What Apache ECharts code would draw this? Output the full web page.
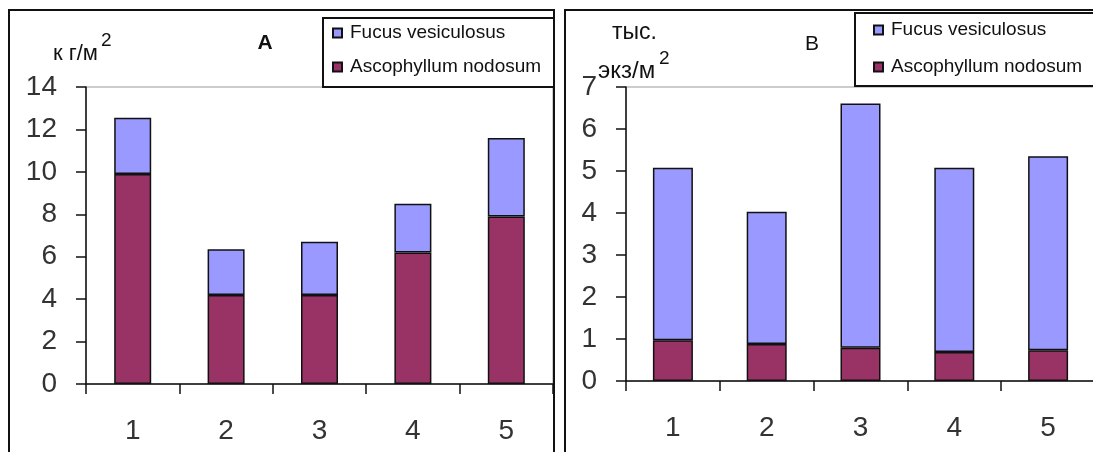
<!DOCTYPE html>
<html>
<head>
<meta charset="utf-8">
<script src="https://cdn.jsdelivr.net/npm/echarts@6/dist/echarts.min.js"></script>
<style>
  html, body { margin: 0; padding: 0; background: #fff; overflow: hidden; }
  #wrap { position: relative; width: 1093px; height: 452px; }
  #panelA { position: absolute; left: 8px; top: 9px; width: 543px; height: 450px;
    border: 2px solid #111; border-bottom: none; }
  #panelB { position: absolute; left: 564px; top: 9px; width: 529px; height: 450px;
    border-left: 2px solid #111; border-top: 2px solid #111; }
</style>
</head>
<body>
<div id="wrap">
  <div id="panelA"></div>
  <div id="panelB"></div>
</div>
<script>
const categories = ["1", "2", "3", "4", "5"];
const seriesNames = ["Fucus vesiculosus", "Ascophyllum nodosum"];

// A: biomass, kg/m2
const biomassAsco = [9.9, 4.2, 4.2, 6.2, 7.9];
const biomassFucus = [2.65, 2.15, 2.5, 2.3, 3.7];

// B: density, thousand ind./m2
const densityAsco = [0.97, 0.88, 0.79, 0.69, 0.73];
const densityFucus = [4.11, 3.15, 5.82, 4.39, 4.62];

const FUCUS = "#9999ff";
const ASCO = "#993366";
const textFont = "'Liberation Sans', Arial, sans-serif";

function buildOption(cfg) {
  return {
    animation: false,
    legend: {
      data: seriesNames,
      orient: "vertical",
      left: cfg.legend.left,
      top: cfg.legend.top,
      padding: cfg.legend.padding,
      itemGap: cfg.legend.gap,
      itemWidth: 9,
      itemHeight: 9,
      icon: "rect",
      borderColor: "#111",
      borderWidth: 2,
      backgroundColor: "#fff",
      textStyle: { fontFamily: textFont, fontSize: 19, color: "#111", lineHeight: 20, padding: [0, 0, 0, 3] },
    },
    grid: {
      left: cfg.grid.left, top: cfg.grid.top, width: cfg.grid.width, height: cfg.grid.height,
      show: true, borderColor: "#999", borderWidth: 1,
    },
    xAxis: {
      type: "category",
      data: categories,
      axisLine: { lineStyle: { color: "#111", width: 1.5 } },
      axisTick: { show: true, length: 10, interval: 0, lineStyle: { color: "#111", width: 1.5 } },
      axisLabel: { margin: 33, fontFamily: textFont, fontSize: 28, color: "#333" },
    },
    yAxis: {
      type: "value",
      min: 0,
      max: cfg.yMax,
      interval: cfg.yStep,
      splitLine: { show: false },
      axisLine: { show: true, lineStyle: { color: "#111", width: 1.5 } },
      axisTick: { show: true, length: 10, lineStyle: { color: "#111", width: 1.5 } },
      axisLabel: { margin: 29, fontFamily: textFont, fontSize: 28, color: "#333" },
    },
    graphic: cfg.texts.map((t) => ({
      type: "text",
      x: t.x,
      y: t.y,
      style: {
        text: t.text,
        font: t.font,
        fill: "#111",
        align: t.align || "left",
        verticalAlign: "middle",
      },
    })),
    series: [
      {
        name: "Ascophyllum nodosum",
        type: "bar",
        stack: "total",
        barWidth: cfg.barWidth,
        data: cfg.asco,
        itemStyle: { color: ASCO, borderColor: "#111", borderWidth: 1.5 },
      },
      {
        name: "Fucus vesiculosus",
        type: "bar",
        stack: "total",
        barWidth: cfg.barWidth,
        data: cfg.fucus,
        itemStyle: { color: FUCUS, borderColor: "#111", borderWidth: 1.5 },
      },
    ],
  };
}

const chartA = echarts.init(document.getElementById("panelA"));
chartA.setOption(buildOption({
  yMax: 14,
  yStep: 2,
  barWidth: 37,
  asco: biomassAsco,
  fucus: biomassFucus,
  grid: { left: 76, top: 76, width: 468, height: 297 },
  legend: { left: 313, top: 7, padding: [5, 40, 10, 9], gap: 14 },
  texts: [
    { text: "А", x: 255, y: 32, font: "bold 21px " + textFont, align: "center" },
    { text: "к г/м", x: 43, y: 43, font: "22px " + textFont },
    { text: "2", x: 91, y: 30, font: "19px " + textFont },
  ],
}));

const chartB = echarts.init(document.getElementById("panelB"));
chartB.setOption(buildOption({
  yMax: 7,
  yStep: 1,
  barWidth: 40,
  asco: densityAsco,
  fucus: densityFucus,
  grid: { left: 60, top: 76, width: 481, height: 294 },
  legend: { left: 289, top: 2, padding: [7, 40, 9, 18], gap: 17 },
  texts: [
    { text: "В", x: 246, y: 33, font: "21px " + textFont, align: "center" },
    { text: "тыс.", x: 46, y: 22, font: "23px " + textFont },
    { text: "экз/м", x: 32, y: 60, font: "24px " + textFont },
    { text: "2", x: 93, y: 48, font: "19px " + textFont },
  ],
}));
</script>
</body>
</html>
